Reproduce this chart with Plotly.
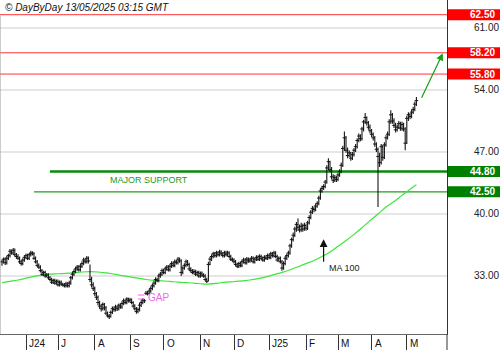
import numpy as np
import pandas as pd
import plotly.graph_objects as go

# Daily sessions (weekdays) from 13 May 2024 to 9 May 2025
dates = pd.bdate_range("2024-05-13", "2025-05-09")

# Daily closes, highs and lows (one row per week)
close = [
    34.6, 34.9, 34.5, 35.0, 35.3,
    35.8, 35.6, 35.9, 35.4, 35.2,
    35.0, 34.6, 34.4, 34.8, 35.1,
    35.3, 35.0, 35.4, 35.6, 35.5,
    35.0, 34.6, 34.2, 34.0, 33.6,
    33.2, 33.4, 33.0, 33.1, 32.8,
    32.6, 32.3, 32.5, 32.2, 32.4,
    32.0, 32.3, 32.1, 32.0, 31.9,
    32.1, 31.9, 32.2, 32.8, 33.2,
    33.5, 33.8, 34.0, 33.7, 34.1,
    34.4, 34.8, 34.6, 35.0, 34.7,
    32.6, 32.0, 31.6, 31.0, 30.6,
    30.0, 29.6, 29.3, 29.8, 29.4,
    28.8, 28.5, 28.4, 28.9, 29.3,
    29.2, 29.5, 29.3, 29.7, 29.5,
    29.9, 30.2, 30.0, 30.4, 30.2,
    30.3, 30.0, 29.6, 29.3, 29.0,
    29.2, 29.7, 30.0, 30.3, 30.2,
    31.05, 31.0, 31.3, 31.6, 31.9,
    32.2, 32.6, 32.5, 33.0, 33.2,
    33.6, 33.4, 33.8, 34.0, 33.7,
    34.1, 34.4, 34.2, 34.6, 34.5,
    34.9, 34.7, 33.4, 33.9, 34.2,
    34.6, 34.3, 33.8, 33.6, 33.4,
    33.5, 33.2, 33.4, 33.0, 33.3,
    33.1, 33.0, 32.6, 32.4, 34.3,
    34.9, 35.2, 35.5, 35.3, 35.6,
    35.4, 35.7, 35.5, 35.3, 35.6,
    35.4, 35.6, 35.2, 34.9, 34.8,
    34.6, 34.3, 34.1, 34.4, 34.2,
    34.6, 34.8, 34.5, 34.9, 34.7,
    34.8, 35.0, 34.6, 34.9, 35.1,
    34.9, 35.2, 35.0, 34.8, 35.1,
    35.0, 35.3, 35.1, 35.5, 35.3,
    35.6, 35.2, 34.8, 35.0, 34.6,
    33.9, 34.4, 35.0, 35.3, 35.6,
    36.4, 37.1, 37.6, 38.3, 38.8,
    38.5, 38.2, 38.6, 38.3, 38.7,
    38.4, 39.0, 39.6, 40.2, 40.6,
    40.5, 40.9, 41.2, 41.8, 42.6,
    42.9, 43.1, 43.6, 45.2, 45.9,
    45.0, 44.2, 43.8, 44.1, 43.9,
    44.4, 44.8, 45.5, 47.4, 48.6,
    47.2, 46.6, 46.9, 46.3, 46.7,
    47.2, 47.6, 48.3, 48.8, 48.5,
    49.6, 50.4, 50.9, 50.3, 49.8,
    49.4, 49.0, 48.6, 47.9, 47.3,
    46.5, 45.8, 47.6, 46.4, 47.8,
    48.6, 49.0, 50.4, 51.2, 50.5,
    50.0, 49.5, 49.8, 50.2, 49.7,
    50.1, 49.6, 48.0, 50.8, 51.2,
    51.0, 51.5, 51.8, 52.4, 52.8,
]

high = [
    34.85, 35.1, 35.1, 35.25, 35.5,
    36.05, 36.0, 36.15, 36.1, 35.6,
    35.45, 35.2, 34.8, 35.0, 35.35,
    35.55, 35.5, 35.6, 35.85, 35.8,
    35.7, 35.2, 34.8, 34.4, 34.2,
    33.8, 33.6, 33.6, 33.35, 33.3,
    33.0, 32.8, 32.7, 32.7, 32.6,
    32.6, 32.5, 32.5, 32.25, 32.2,
    32.35, 32.3, 32.45, 33.0, 33.45,
    33.75, 34.05, 34.25, 34.2, 34.35,
    34.65, 35.05, 35.0, 35.25, 35.2,
    34.3, 32.9, 32.3, 31.8, 31.2,
    30.8, 30.2, 29.8, 30.0, 29.95,
    29.6, 29.0, 28.7, 29.1, 29.55,
    29.55, 29.75, 29.65, 29.9, 29.9,
    30.15, 30.45, 30.35, 30.6, 30.55,
    30.55, 30.45, 30.15, 29.8, 29.5,
    29.45, 29.95, 30.25, 30.5, 30.4,
    31.3, 31.3, 31.55, 31.85, 32.15,
    32.45, 32.85, 32.8, 33.25, 33.45,
    33.85, 33.8, 34.05, 34.25, 34.2,
    34.35, 34.65, 34.6, 34.85, 34.8,
    35.15, 35.1, 34.9, 34.1, 34.45,
    34.85, 34.8, 34.5, 34.0, 33.8,
    33.75, 33.7, 33.6, 33.6, 33.5,
    33.5, 33.3, 33.2, 32.8, 34.6,
    35.15, 35.45, 35.75, 35.7, 35.85,
    35.8, 35.95, 35.9, 35.7, 35.85,
    35.85, 35.85, 35.8, 35.4, 35.1,
    35.0, 34.8, 34.5, 34.6, 34.6,
    34.85, 35.05, 35.0, 35.15, 35.1,
    35.05, 35.25, 35.2, 35.1, 35.35,
    35.35, 35.45, 35.4, 35.2, 35.35,
    35.35, 35.55, 35.5, 35.75, 35.7,
    35.85, 35.8, 35.4, 35.2, 35.2,
    34.8, 34.65, 35.25, 35.55, 35.85,
    36.65, 37.35, 37.9, 38.55, 39.1,
    39.5, 38.8, 39.0, 38.9, 39.0,
    38.9, 39.25, 39.85, 40.45, 40.9,
    40.85, 41.15, 41.45, 42.05, 42.9,
    43.2, 43.35, 43.85, 45.5, 46.3,
    46.0, 45.3, 44.5, 44.4, 44.3,
    44.65, 45.05, 45.8, 47.7, 49.3,
    48.8, 47.5, 47.2, 47.0, 47.0,
    47.45, 47.9, 48.55, 49.1, 49.0,
    49.85, 50.65, 51.4, 51.0, 50.5,
    50.1, 49.6, 49.2, 48.8, 48.1,
    47.5, 46.9, 47.9, 47.8, 48.1,
    48.9, 49.3, 50.7, 51.7, 51.4,
    50.8, 50.3, 50.1, 50.5, 50.4,
    50.4, 50.3, 49.8, 51.1, 51.5,
    51.4, 51.8, 52.1, 52.7, 53.2,
]

low = [
    34.15, 34.4, 34.25, 34.3, 34.8,
    35.1, 35.4, 35.4, 35.2, 34.95,
    34.8, 34.4, 34.15, 34.2, 34.6,
    34.9, 34.8, 34.8, 35.2, 35.3,
    34.8, 34.4, 34.0, 33.8, 33.4,
    33.0, 33.0, 32.8, 32.85, 32.6,
    32.4, 32.1, 32.1, 32.0, 32.0,
    31.8, 31.8, 31.9, 31.8, 31.7,
    31.7, 31.7, 31.7, 32.0, 32.6,
    33.0, 33.3, 33.6, 33.5, 33.5,
    33.9, 34.2, 34.4, 34.4, 34.4,
    32.3, 31.7, 31.3, 30.7, 30.3,
    29.7, 29.3, 29.0, 29.1, 29.1,
    28.6, 28.3, 28.15, 28.3, 28.7,
    28.95, 29.0, 29.05, 29.1, 29.3,
    29.3, 29.7, 29.8, 29.8, 30.0,
    30.0, 29.8, 29.4, 29.1, 28.75,
    28.8, 29.0, 29.5, 29.8, 29.95,
    30.85, 30.8, 30.95, 31.1, 31.4,
    31.7, 32.0, 32.3, 32.3, 32.8,
    33.0, 33.2, 33.2, 33.6, 33.5,
    33.5, 33.9, 34.0, 34.0, 34.3,
    34.3, 34.5, 33.0, 33.2, 33.7,
    34.0, 34.1, 33.6, 33.4, 33.2,
    33.2, 33.0, 33.0, 32.8, 32.8,
    32.9, 32.8, 32.4, 32.2, 32.4,
    34.2, 34.7, 35.0, 35.1, 35.1,
    35.2, 35.2, 35.3, 35.1, 35.1,
    35.2, 35.2, 35.0, 34.7, 34.6,
    34.4, 34.1, 33.9, 33.9, 34.0,
    34.0, 34.4, 34.3, 34.3, 34.5,
    34.5, 34.6, 34.4, 34.4, 34.7,
    34.7, 34.7, 34.8, 34.6, 34.6,
    34.8, 34.8, 34.9, 34.9, 35.1,
    35.1, 35.0, 34.6, 34.6, 34.4,
    33.6, 33.7, 34.2, 34.8, 35.1,
    35.4, 36.2, 36.9, 37.4, 38.0,
    38.1, 37.9, 38.0, 38.0, 38.1,
    38.1, 38.2, 38.8, 39.4, 40.0,
    40.2, 40.3, 40.7, 41.0, 41.6,
    42.4, 42.7, 42.9, 43.4, 44.9,
    44.7, 43.9, 43.5, 43.6, 43.6,
    43.7, 44.2, 44.6, 45.3, 47.1,
    46.9, 46.3, 46.4, 46.0, 46.1,
    46.5, 47.0, 47.4, 48.1, 48.2,
    48.3, 49.3, 50.2, 50.0, 49.5,
    49.1, 48.7, 48.3, 47.6, 47.0,
    40.8, 45.3, 45.6, 46.0, 46.2,
    47.6, 48.4, 48.8, 50.2, 50.2,
    49.7, 49.2, 49.3, 49.6, 49.4,
    49.4, 49.3, 47.2, 47.9, 50.5,
    50.7, 50.8, 51.3, 51.6, 52.2,
]

# 100-day moving average, sampled every Monday plus the last session
ma100 = [
    32.25, 32.4, 32.55, 32.75, 32.95, 33.1, 33.2, 33.25, 33.3, 33.35,
    33.45, 33.5, 33.45, 33.35, 33.2, 33.05, 32.9, 32.75, 32.6, 32.5,
    32.45, 32.4, 32.3, 32.25, 32.2, 32.1, 32.1, 32.2, 32.3, 32.35,
    32.45, 32.55, 32.7, 32.9, 33.15, 33.4, 33.7, 34.05, 34.4, 34.75,
    35.2, 35.7, 36.35, 37.0, 37.7, 38.45, 39.25, 40.0, 40.8, 41.4,
    42.1, 42.8, 43.3,
]

month_labels = ["J24", "J", "A", "S", "O", "N", "D", "J25", "F", "M", "A", "M"]
price_ticks = [33, 40, 47, 54, 61]
resistances = [62.50, 58.20, 55.80]
supports = [44.80, 42.50]
gap_bounds = [30.40, 30.85]
target = 58.20

n = len(dates)
xi = np.arange(n)
c = np.array(close)
h = np.array(high)
l = np.array(low)

ma_x = list(range(0, n, 5)) + [n - 1]

X_RANGE = [-1.25, 278.125]
Y_RANGE = [26.45, 64.16]
FONT = "Arial, Liberation Sans, sans-serif"
BAR = "#151515"


def idx(day):
    return int(dates.get_loc(pd.Timestamp(day)))


month_starts = [i for i in range(1, n) if dates[i].month != dates[i - 1].month]

fig = go.Figure()

# Moving average
fig.add_trace(go.Scatter(
    x=ma_x, y=ma100, mode="lines", line=dict(color="#3ce63c", width=1.2, shape="spline"),
    hoverinfo="skip",
))

# Daily high-low bars with close tick
fig.add_trace(go.Scatter(
    x=xi, y=c, mode="markers",
    marker=dict(symbol="line-ew-open", size=2.5, color=BAR, line=dict(color=BAR, width=1)),
    error_y=dict(type="data", symmetric=False, array=h - c, arrayminus=c - l,
                 thickness=1.1, width=0, color=BAR),
))

shapes = []
for v in resistances:
    shapes.append(dict(type="line", xref="paper", x0=0, x1=1, yref="y", y0=v, y1=v,
                       line=dict(color="#ff3333", width=1), layer="below"))
shapes.append(dict(type="line", xref="x", x0=idx("2024-06-24"), x1=X_RANGE[1], yref="y",
                   y0=supports[0], y1=supports[0], line=dict(color="#0a8a0a", width=2.5),
                   layer="below"))
shapes.append(dict(type="line", xref="x", x0=idx("2024-06-10"), x1=X_RANGE[1], yref="y",
                   y0=supports[1], y1=supports[1], line=dict(color="#1f9f1f", width=1.2),
                   layer="below"))
# Gap markers
for v in gap_bounds:
    shapes.append(dict(type="line", xref="x", x0=idx("2024-09-09"), x1=idx("2024-09-13"),
                       yref="y", y0=v, y1=v, line=dict(color="#ee66ee", width=1)))

# Price boxes on the right scale
box_x0, box_x1 = 448 / 447, 500 / 447
for v in resistances:
    shapes.append(dict(type="rect", xref="paper", x0=box_x0, x1=box_x1, yref="y",
                       ysizemode="pixel", yanchor=v, y0=-5.5, y1=5.5,
                       fillcolor="#ff0000", line=dict(width=0)))
for v in supports:
    shapes.append(dict(type="rect", xref="paper", x0=box_x0, x1=box_x1, yref="y",
                       ysizemode="pixel", yanchor=v, y0=-5.5, y1=5.5,
                       fillcolor="#008000", line=dict(width=0)))

# Frame pieces
shapes.append(dict(type="line", xref="paper", x0=0, x1=0, yref="paper", y0=0, y1=0.952,
                   line=dict(color="#9a9a9a", width=1)))
shapes.append(dict(type="line", xref="paper", x0=1, x1=1, yref="paper", y0=-0.05, y1=0,
                   line=dict(color="#333333", width=1)))

annotations = []
annotations.append(dict(xref="paper", x=0, xanchor="left", xshift=3, yref="paper", y=1,
                        yanchor="top", yshift=0, showarrow=False,
                        text="<i>© DayByDay 13/05/2025 03:15 GMT</i>",
                        font=dict(family=FONT, size=10, color="#111111")))
for i, lab in zip(month_starts, month_labels):
    annotations.append(dict(xref="x", x=i, xanchor="left", xshift=1, yref="paper", y=0,
                            yanchor="top", yshift=-2, showarrow=False, text=lab,
                            font=dict(family=FONT, size=10, color="#111111")))
for v in resistances + supports:
    annotations.append(dict(xref="paper", x=497 / 447, xanchor="right", yref="y", y=v,
                            yanchor="middle", showarrow=False, text=f"<b>{v:.2f}</b>",
                            font=dict(family=FONT, size=10, color="#ffffff")))
annotations.append(dict(xref="x", x=idx("2024-09-18"), xanchor="center", yref="y", y=43.84,
                        yanchor="middle", showarrow=False, text="MAJOR SUPPORT",
                        font=dict(family=FONT, size=9, color="#1a9a1a")))
annotations.append(dict(xref="x", x=idx("2024-09-13"), xanchor="left", xshift=2, yref="y",
                        y=sum(gap_bounds) / 2, yanchor="middle", showarrow=False, text="GAP",
                        font=dict(family=FONT, size=10, color="#ee66ee")))
# MA 100 pointer
ma_i = idx("2025-02-18")
annotations.append(dict(xref="x", yref="y", x=ma_i, y=37.14, axref="x", ayref="y",
                        ax=ma_i, ay=34.43, showarrow=True, arrowhead=2, arrowsize=1.3,
                        arrowwidth=1.2, arrowcolor="#111111", text=""))
annotations.append(dict(xref="x", x=ma_i, xanchor="left", xshift=3, yref="y", y=33.85,
                        yanchor="middle", showarrow=False, text="MA 100",
                        font=dict(family=FONT, size=9, color="#222222")))
# Projected move toward the 58.20 target
annotations.append(dict(xref="x", yref="y", x=n - 1 + 16.5, y=target - 0.05, axref="x",
                        ayref="y", ax=n - 1 + 2.8, ay=c[-1] + 0.15, showarrow=True,
                        arrowhead=2, arrowsize=1.2, arrowwidth=1.2, arrowcolor="#15a015",
                        text=""))

fig.update_layout(
    width=500, height=350,
    margin=dict(l=0, r=53, t=0, b=16),
    paper_bgcolor="white", plot_bgcolor="white",
    showlegend=False,
    shapes=shapes,
    annotations=annotations,
    xaxis=dict(range=X_RANGE, showgrid=False, zeroline=False, showticklabels=False,
               tickmode="array", tickvals=month_starts, ticks="outside", ticklen=16,
               tickcolor="#333333", tickwidth=1, showline=True, linecolor="#666666",
               linewidth=1, fixedrange=True),
    yaxis=dict(range=Y_RANGE, side="right", tickmode="array", tickvals=price_ticks,
               ticktext=[f"{v:.2f}" for v in price_ticks], showgrid=True,
               gridcolor="#e6e6e6", gridwidth=1.5, zeroline=False, ticks="outside",
               ticklen=24, tickcolor="rgba(0,0,0,0)",
               tickfont=dict(family=FONT, size=10, color="#222222"),
               showline=True, linecolor="#333333", linewidth=1, fixedrange=True),
)

fig.write_html("out.html")
